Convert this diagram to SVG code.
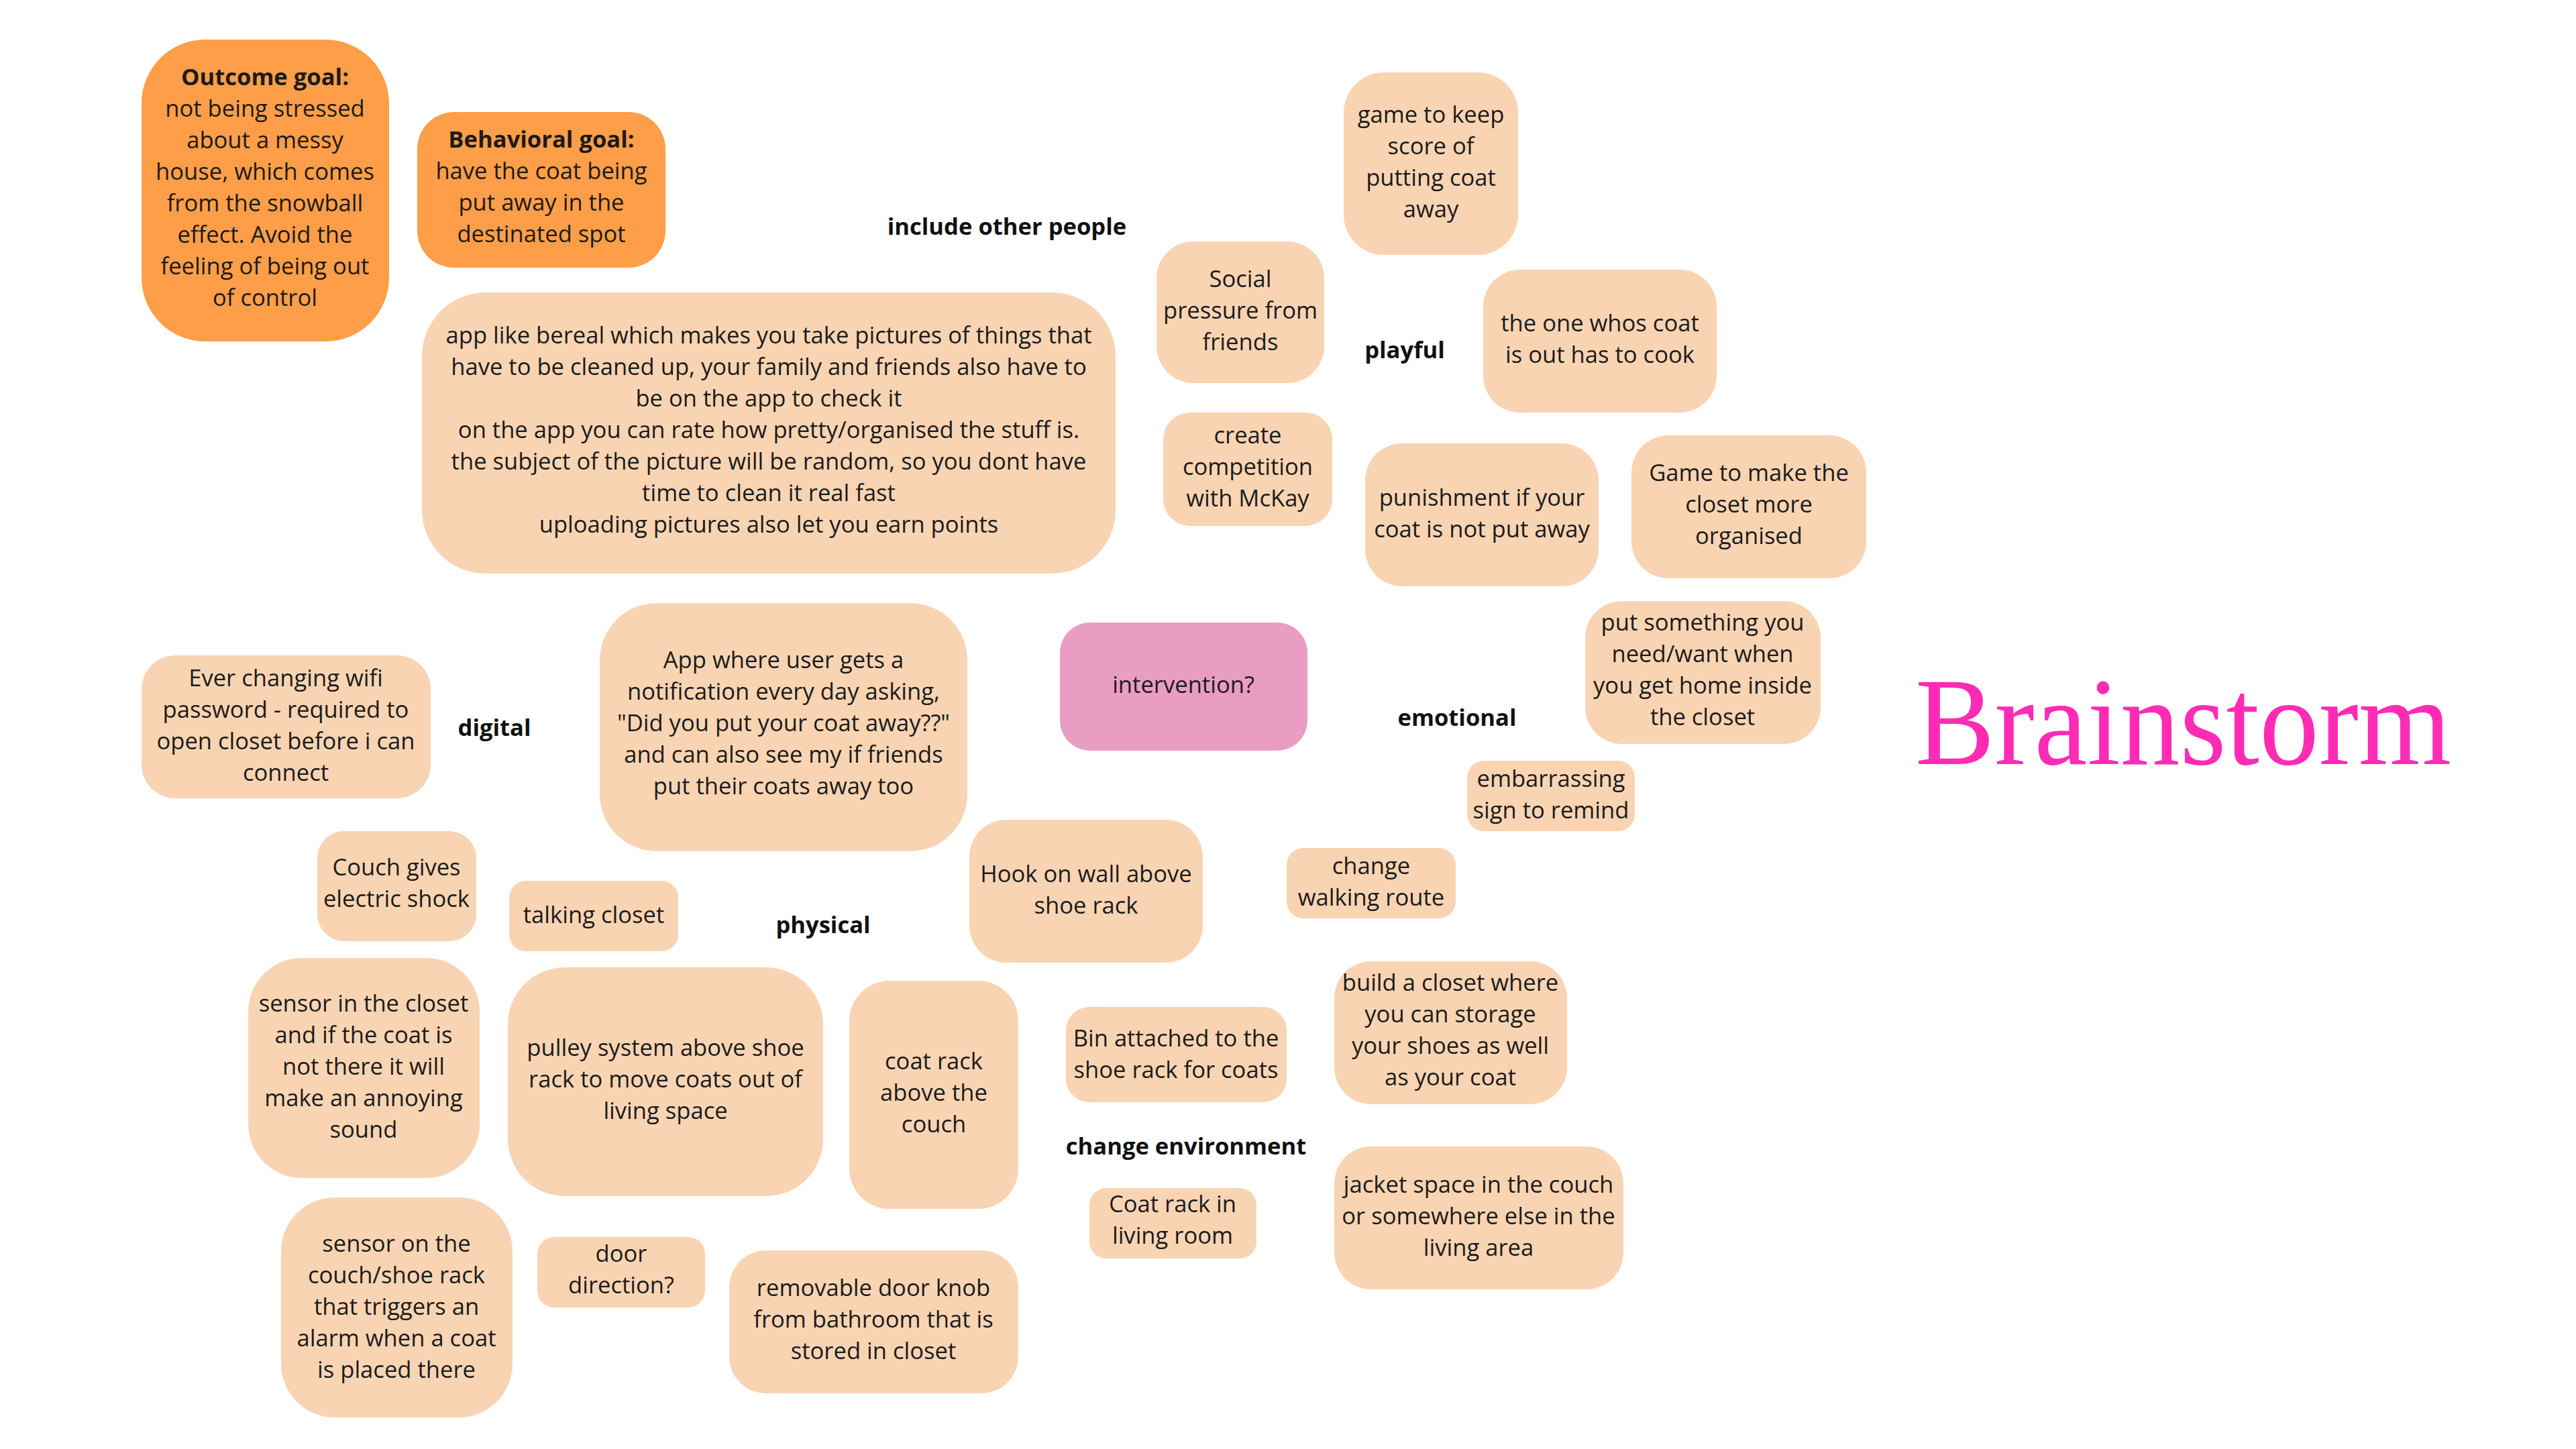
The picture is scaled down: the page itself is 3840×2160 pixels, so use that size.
<svg xmlns="http://www.w3.org/2000/svg" width="3840" height="2160" viewBox="0 0 3840 2160">
<style>
.bg{fill:#ffffff}
.goal{fill:#FE9E48}
.idea{fill:#F9D4B3}
.pink{fill:#E99DC3}
text{font-family:"Open Sans","Noto Sans","Liberation Sans",sans-serif;font-size:34.6px;fill:#1b1b1b;text-anchor:middle}
.b{font-weight:700}
.lbl{font-weight:700;fill:#111}
.title{font-family:"Liberation Serif","DejaVu Serif",serif;font-size:186px;fill:#FF2BB5;text-anchor:start}
</style>
<rect class="bg" x="0" y="0" width="3840" height="2160"/>
<g id="connectors"/>

<g id="outcome-goal">
<rect class="goal" x="211" y="59" width="369" height="450" rx="95"/>
<text x="395" y="127"><tspan class="b">Outcome goal:</tspan><tspan x="395" dy="47">not being stressed</tspan><tspan x="395" dy="47">about a messy</tspan><tspan x="395" dy="47">house, which comes</tspan><tspan x="395" dy="47">from the snowball</tspan><tspan x="395" dy="47">effect. Avoid the</tspan><tspan x="395" dy="47">feeling of being out</tspan><tspan x="395" dy="47">of control</tspan></text>
</g>

<g id="behavioral-goal">
<rect class="goal" x="622" y="167" width="370" height="232" rx="55"/>
<text x="807" y="220"><tspan class="b">Behavioral goal:</tspan><tspan x="807" dy="47">have the coat being</tspan><tspan x="807" dy="47">put away in the</tspan><tspan x="807" dy="47">destinated spot</tspan></text>
</g>

<g id="label-include-other-people"><text class="lbl" x="1501" y="350">include other people</text></g>

<g id="bereal-app">
<rect class="idea" x="629" y="436" width="1034" height="419" rx="95"/>
<text x="1146" y="512"><tspan>app like bereal which makes you take pictures of things that</tspan><tspan x="1146" dy="47">have to be cleaned up, your family and friends also have to</tspan><tspan x="1146" dy="47">be on the app to check it</tspan><tspan x="1146" dy="47">on the app you can rate how pretty/organised the stuff is.</tspan><tspan x="1146" dy="47">the subject of the picture will be random, so you dont have</tspan><tspan x="1146" dy="47">time to clean it real fast</tspan><tspan x="1146" dy="47">uploading pictures also let you earn points</tspan></text>
</g>

<g id="game-keep-score">
<rect class="idea" x="2003" y="108" width="260" height="272" rx="60"/>
<text x="2133" y="183"><tspan>game to keep</tspan><tspan x="2133" dy="47">score of</tspan><tspan x="2133" dy="47">putting coat</tspan><tspan x="2133" dy="47">away</tspan></text>
</g>

<g id="social-pressure">
<rect class="idea" x="1724" y="360" width="250" height="211" rx="55"/>
<text x="1849" y="428"><tspan>Social</tspan><tspan x="1849" dy="47">pressure from</tspan><tspan x="1849" dy="47">friends</tspan></text>
</g>

<g id="label-playful"><text class="lbl" x="2094" y="534">playful</text></g>

<g id="one-whos-coat">
<rect class="idea" x="2211" y="402" width="348" height="213" rx="55"/>
<text x="2385" y="494"><tspan>the one whos coat</tspan><tspan x="2385" dy="47">is out has to cook</tspan></text>
</g>

<g id="create-competition">
<rect class="idea" x="1734" y="615" width="252" height="169" rx="40"/>
<text x="1860" y="661"><tspan>create</tspan><tspan x="1860" dy="47">competition</tspan><tspan x="1860" dy="47">with McKay</tspan></text>
</g>

<g id="punishment">
<rect class="idea" x="2035" y="661" width="348" height="213" rx="55"/>
<text x="2209" y="754"><tspan>punishment if your</tspan><tspan x="2209" dy="47">coat is not put away</tspan></text>
</g>

<g id="game-closet">
<rect class="idea" x="2432" y="649" width="350" height="213" rx="55"/>
<text x="2607" y="717"><tspan>Game to make the</tspan><tspan x="2607" dy="47">closet more</tspan><tspan x="2607" dy="47">organised</tspan></text>
</g>

<g id="put-something">
<rect class="idea" x="2363" y="896" width="351" height="213" rx="55"/>
<text x="2538" y="940"><tspan>put something you</tspan><tspan x="2538" dy="47">need/want when</tspan><tspan x="2538" dy="47">you get home inside</tspan><tspan x="2538" dy="47">the closet</tspan></text>
</g>

<g id="label-emotional"><text class="lbl" x="2172" y="1082">emotional</text></g>

<g id="intervention">
<rect class="pink" x="1580" y="928" width="369" height="191" rx="45"/>
<text x="1764" y="1033">intervention?</text>
</g>

<g id="wifi-password">
<rect class="idea" x="211" y="977" width="431" height="213" rx="50"/>
<text x="426" y="1023"><tspan>Ever changing wifi</tspan><tspan x="426" dy="47">password - required to</tspan><tspan x="426" dy="47">open closet before i can</tspan><tspan x="426" dy="47">connect</tspan></text>
</g>

<g id="label-digital"><text class="lbl" x="737" y="1097">digital</text></g>

<g id="app-notification">
<rect class="idea" x="894" y="899" width="548" height="370" rx="85"/>
<text x="1168" y="996"><tspan>App where user gets a</tspan><tspan x="1168" dy="47">notification every day asking,</tspan><tspan x="1168" dy="47">"Did you put your coat away??"</tspan><tspan x="1168" dy="47">and can also see my if friends</tspan><tspan x="1168" dy="47">put their coats away too</tspan></text>
</g>

<g id="embarrassing-sign">
<rect class="idea" x="2187" y="1134" width="250" height="105" rx="25"/>
<text x="2312" y="1173"><tspan>embarrassing</tspan><tspan x="2312" dy="47">sign to remind</tspan></text>
</g>

<g id="change-walking-route">
<rect class="idea" x="1918" y="1264" width="252" height="105" rx="25"/>
<text x="2044" y="1303"><tspan>change</tspan><tspan x="2044" dy="47">walking route</tspan></text>
</g>

<g id="hook-on-wall">
<rect class="idea" x="1445" y="1222" width="348" height="213" rx="55"/>
<text x="1619" y="1315"><tspan>Hook on wall above</tspan><tspan x="1619" dy="47">shoe rack</tspan></text>
</g>

<g id="couch-shock">
<rect class="idea" x="473" y="1239" width="237" height="164" rx="40"/>
<text x="591" y="1305"><tspan>Couch gives</tspan><tspan x="591" dy="47">electric shock</tspan></text>
</g>

<g id="talking-closet">
<rect class="idea" x="759" y="1313" width="252" height="105" rx="25"/>
<text x="885" y="1376">talking closet</text>
</g>

<g id="label-physical"><text class="lbl" x="1227" y="1391">physical</text></g>

<g id="sensor-closet">
<rect class="idea" x="370" y="1428" width="345" height="328" rx="80"/>
<text x="542" y="1508"><tspan>sensor in the closet</tspan><tspan x="542" dy="47">and if the coat is</tspan><tspan x="542" dy="47">not there it will</tspan><tspan x="542" dy="47">make an annoying</tspan><tspan x="542" dy="47">sound</tspan></text>
</g>

<g id="pulley-system">
<rect class="idea" x="757" y="1442" width="470" height="341" rx="85"/>
<text x="992" y="1574"><tspan>pulley system above shoe</tspan><tspan x="992" dy="47">rack to move coats out of</tspan><tspan x="992" dy="47">living space</tspan></text>
</g>

<g id="coat-rack-couch">
<rect class="idea" x="1266" y="1462" width="252" height="340" rx="60"/>
<text x="1392" y="1594"><tspan>coat rack</tspan><tspan x="1392" dy="47">above the</tspan><tspan x="1392" dy="47">couch</tspan></text>
</g>

<g id="bin-attached">
<rect class="idea" x="1589" y="1501" width="329" height="142" rx="35"/>
<text x="1753" y="1560"><tspan>Bin attached to the</tspan><tspan x="1753" dy="47">shoe rack for coats</tspan></text>
</g>

<g id="build-closet">
<rect class="idea" x="1989" y="1433" width="347" height="213" rx="55"/>
<text x="2162" y="1477"><tspan>build a closet where</tspan><tspan x="2162" dy="47">you can storage</tspan><tspan x="2162" dy="47">your shoes as well</tspan><tspan x="2162" dy="47">as your coat</tspan></text>
</g>

<g id="label-change-environment"><text class="lbl" x="1768" y="1721">change environment</text></g>

<g id="coat-rack-living-room">
<rect class="idea" x="1624" y="1771" width="249" height="105" rx="25"/>
<text x="1748" y="1807"><tspan>Coat rack in</tspan><tspan x="1748" dy="47">living room</tspan></text>
</g>

<g id="jacket-space">
<rect class="idea" x="1989" y="1709" width="431" height="213" rx="55"/>
<text x="2204" y="1778"><tspan>jacket space in the couch</tspan><tspan x="2204" dy="47">or somewhere else in the</tspan><tspan x="2204" dy="47">living area</tspan></text>
</g>

<g id="sensor-couch">
<rect class="idea" x="419" y="1785" width="345" height="328" rx="80"/>
<text x="591" y="1866"><tspan>sensor on the</tspan><tspan x="591" dy="47">couch/shoe rack</tspan><tspan x="591" dy="47">that triggers an</tspan><tspan x="591" dy="47">alarm when a coat</tspan><tspan x="591" dy="47">is placed there</tspan></text>
</g>

<g id="door-direction">
<rect class="idea" x="801" y="1844" width="250" height="105" rx="25"/>
<text x="926" y="1881"><tspan>door</tspan><tspan x="926" dy="47">direction?</tspan></text>
</g>

<g id="removable-door-knob">
<rect class="idea" x="1087" y="1864" width="431" height="213" rx="55"/>
<text x="1302" y="1932"><tspan>removable door knob</tspan><tspan x="1302" dy="47">from bathroom that is</tspan><tspan x="1302" dy="47">stored in closet</tspan></text>
</g>

<g id="title-brainstorm"><text class="title" x="2855" y="1139" textLength="799" lengthAdjust="spacingAndGlyphs">Brainstorm</text></g>
</svg>
